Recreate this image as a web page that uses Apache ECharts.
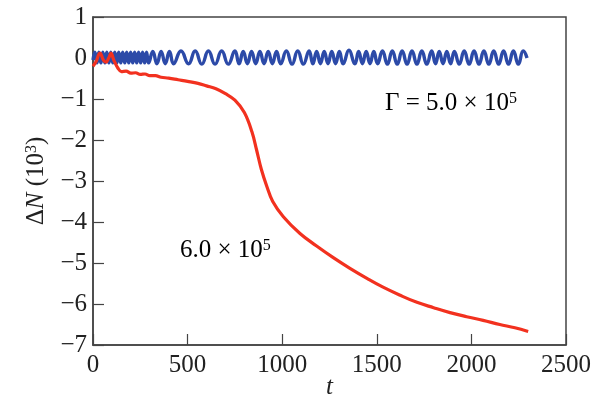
<!DOCTYPE html>
<html>
<head>
<meta charset="utf-8">
<script src="https://cdn.jsdelivr.net/npm/echarts@6/dist/echarts.min.js"></script>
<style>
  html, body { margin: 0; padding: 0; background: #fff; }
  #main { width: 594px; height: 396px; }
</style>
</head>
<body>
<div id="main"></div>
<script>
// Gamma = 6.0e5, drifting down
const redT = [0, 15, 37, 55, 69, 83, 95, 110, 132, 150, 175, 200, 225, 250, 275, 300, 330, 360, 400, 450, 500, 555, 600, 650, 700, 750, 800, 840, 865, 890, 918, 950, 1006, 1094, 1180, 1270, 1358, 1450, 1533, 1620, 1712, 1800, 1887, 1975, 2062, 2150, 2230, 2300];
const redV = [-0.2, -0.1, 0.12, -0.05, -0.1, 0.0, 0.12, -0.05, -0.25, -0.33, -0.32, -0.37, -0.36, -0.4, -0.39, -0.43, -0.43, -0.47, -0.49, -0.53, -0.57, -0.62, -0.68, -0.75, -0.87, -1.03, -1.33, -1.8, -2.25, -2.72, -3.12, -3.5, -3.87, -4.28, -4.58, -4.87, -5.13, -5.38, -5.59, -5.78, -5.96, -6.09, -6.21, -6.31, -6.4, -6.5, -6.58, -6.67];

// Gamma = 5.0e5, oscillating around 0 (turning points)
const blueT = [0, 10, 21, 31, 42, 52, 63, 73, 84, 94, 105, 115, 126, 136, 147, 157, 168, 178, 189, 199, 210, 220, 231, 241, 252, 262, 273, 283, 294,
  316, 338, 360, 382, 404, 426, 465, 505,
  540, 575, 610, 645, 680, 715, 750,
  772, 794, 816, 838, 860, 882, 904, 926, 948, 970, 992,
  1022, 1052, 1082, 1112, 1142, 1162, 1182, 1202, 1222, 1242, 1262, 1282, 1302, 1322, 1353, 1384,
  1404, 1424, 1444, 1464, 1484, 1504,
  1530, 1556, 1582, 1608, 1634, 1660, 1686, 1712, 1738, 1764, 1790,
  1810, 1830, 1850, 1870, 1890, 1910,
  1936, 1962, 1988, 2014, 2040, 2066, 2092, 2118, 2144, 2170, 2196, 2222, 2248, 2274, 2294];
const blueV = [-0.05, 0.14, -0.12, 0.14, -0.12, 0.14, -0.12, 0.14, -0.12, 0.14, -0.12, 0.14, -0.12, 0.14, -0.12, 0.14, -0.12, 0.14, -0.12, 0.14, -0.12, 0.14, -0.12, 0.14, -0.12, 0.14, -0.12, 0.14, -0.12,
  0.16, -0.14, 0.16, -0.14, 0.16, -0.14, 0.17, -0.14,
  0.17, -0.15, 0.17, -0.15, 0.17, -0.15, 0.17,
  -0.14, 0.16, -0.14, 0.16, -0.14, 0.16, -0.14, 0.16, -0.14, 0.16, -0.14,
  0.17, -0.15, 0.17, -0.15, 0.17, -0.14, 0.16, -0.14, 0.16, -0.14, 0.16, -0.14, 0.16, -0.14, 0.19, -0.14,
  0.16, -0.14, 0.16, -0.14, 0.16, -0.14,
  0.17, -0.15, 0.17, -0.15, 0.17, -0.15, 0.17, -0.15, 0.17, -0.15, 0.17,
  -0.14, 0.16, -0.14, 0.16, -0.14, 0.16,
  -0.15, 0.17, -0.15, 0.17, -0.15, 0.17, -0.15, 0.17, -0.15, 0.17, -0.15, 0.17, -0.15, 0.17, 0.0];

const xTicks = [0, 500, 1000, 1500, 2000, 2500];
const yTicks = [-7, -6, -5, -4, -3, -2, -1, 0, 1];

const font = "'Liberation Serif', 'DejaVu Serif', serif";
const minus = (v) => String(v).replace("-", "\u2212");

const chart = echarts.init(document.getElementById("main"), null, { renderer: "canvas" });

chart.setOption({
  animation: false,
  backgroundColor: "#fff",
  grid: {
    left: 93, right: 28, top: 17, bottom: 51,
    containLabel: false,
    outerBoundsMode: "none",
    show: true, borderColor: "#444", borderWidth: 1.5,
  },
  xAxis: {
    type: "value",
    min: xTicks[0], max: xTicks[xTicks.length - 1], interval: 500,
    name: "t",
    nameLocation: "middle",
    nameGap: 30,
    nameMoveOverlap: false,
    nameTextStyle: { fontFamily: font, fontStyle: "italic", fontSize: 25, color: "#222" },
    axisLine: { onZero: false, lineStyle: { color: "#444", width: 1.5 } },
    axisTick: { inside: true, length: 11, lineStyle: { color: "#444", width: 1.2 } },
    axisLabel: { fontFamily: font, fontSize: 25, color: "#222", margin: 8, formatter: minus },
    splitLine: { show: false },
  },
  yAxis: {
    type: "value",
    min: yTicks[0], max: yTicks[yTicks.length - 1], interval: 1,
    name: "{r|Δ}{i|N}{r| (10}{s|3}{r|)}",
    nameLocation: "middle",
    nameGap: 44,
    nameMoveOverlap: false,
    nameTextStyle: {
      color: "#222",
      rich: {
        r: { fontFamily: font, fontSize: 25, color: "#222" },
        i: { fontFamily: font, fontSize: 25, fontStyle: "italic", color: "#222" },
        s: { fontFamily: font, fontSize: 16, color: "#222", verticalAlign: "top" },
      },
    },
    axisLine: { onZero: false, lineStyle: { color: "#444", width: 1.5 } },
    axisTick: { inside: true, length: 11, lineStyle: { color: "#444", width: 1.2 } },
    axisLabel: { fontFamily: font, fontSize: 25, color: "#222", margin: 6, formatter: minus },
    splitLine: { show: false },
  },
  series: [
    {
      type: "line",
      data: blueT.map((t, i) => [t, blueV[i]]),
      smooth: 0.5,
      showSymbol: false,
      lineStyle: { color: "#2c4aa8", width: 3.4 },
      z: 2,
    },
    {
      type: "line",
      data: redT.map((t, i) => [t, redV[i]]),
      smooth: 0.4,
      showSymbol: false,
      lineStyle: { color: "#f2311f", width: 3.2 },
      z: 3,
    },
  ],
  graphic: [
    {
      type: "text",
      style: {
        x: 385, y: 116, verticalAlign: "bottom",
        text: "{a|Γ = 5.0 × 10}{s|5}",
        rich: {
          a: { fontFamily: font, fontSize: 25, color: "#222" },
          s: { fontFamily: font, fontSize: 16, color: "#222", verticalAlign: "top" },
        },
      },
    },
    {
      type: "text",
      style: {
        x: 180, y: 263, verticalAlign: "bottom",
        text: "{a|6.0 × 10}{s|5}",
        rich: {
          a: { fontFamily: font, fontSize: 25, color: "#222" },
          s: { fontFamily: font, fontSize: 16, color: "#222", verticalAlign: "top" },
        },
      },
    },
  ],
});
</script>
</body>
</html>
